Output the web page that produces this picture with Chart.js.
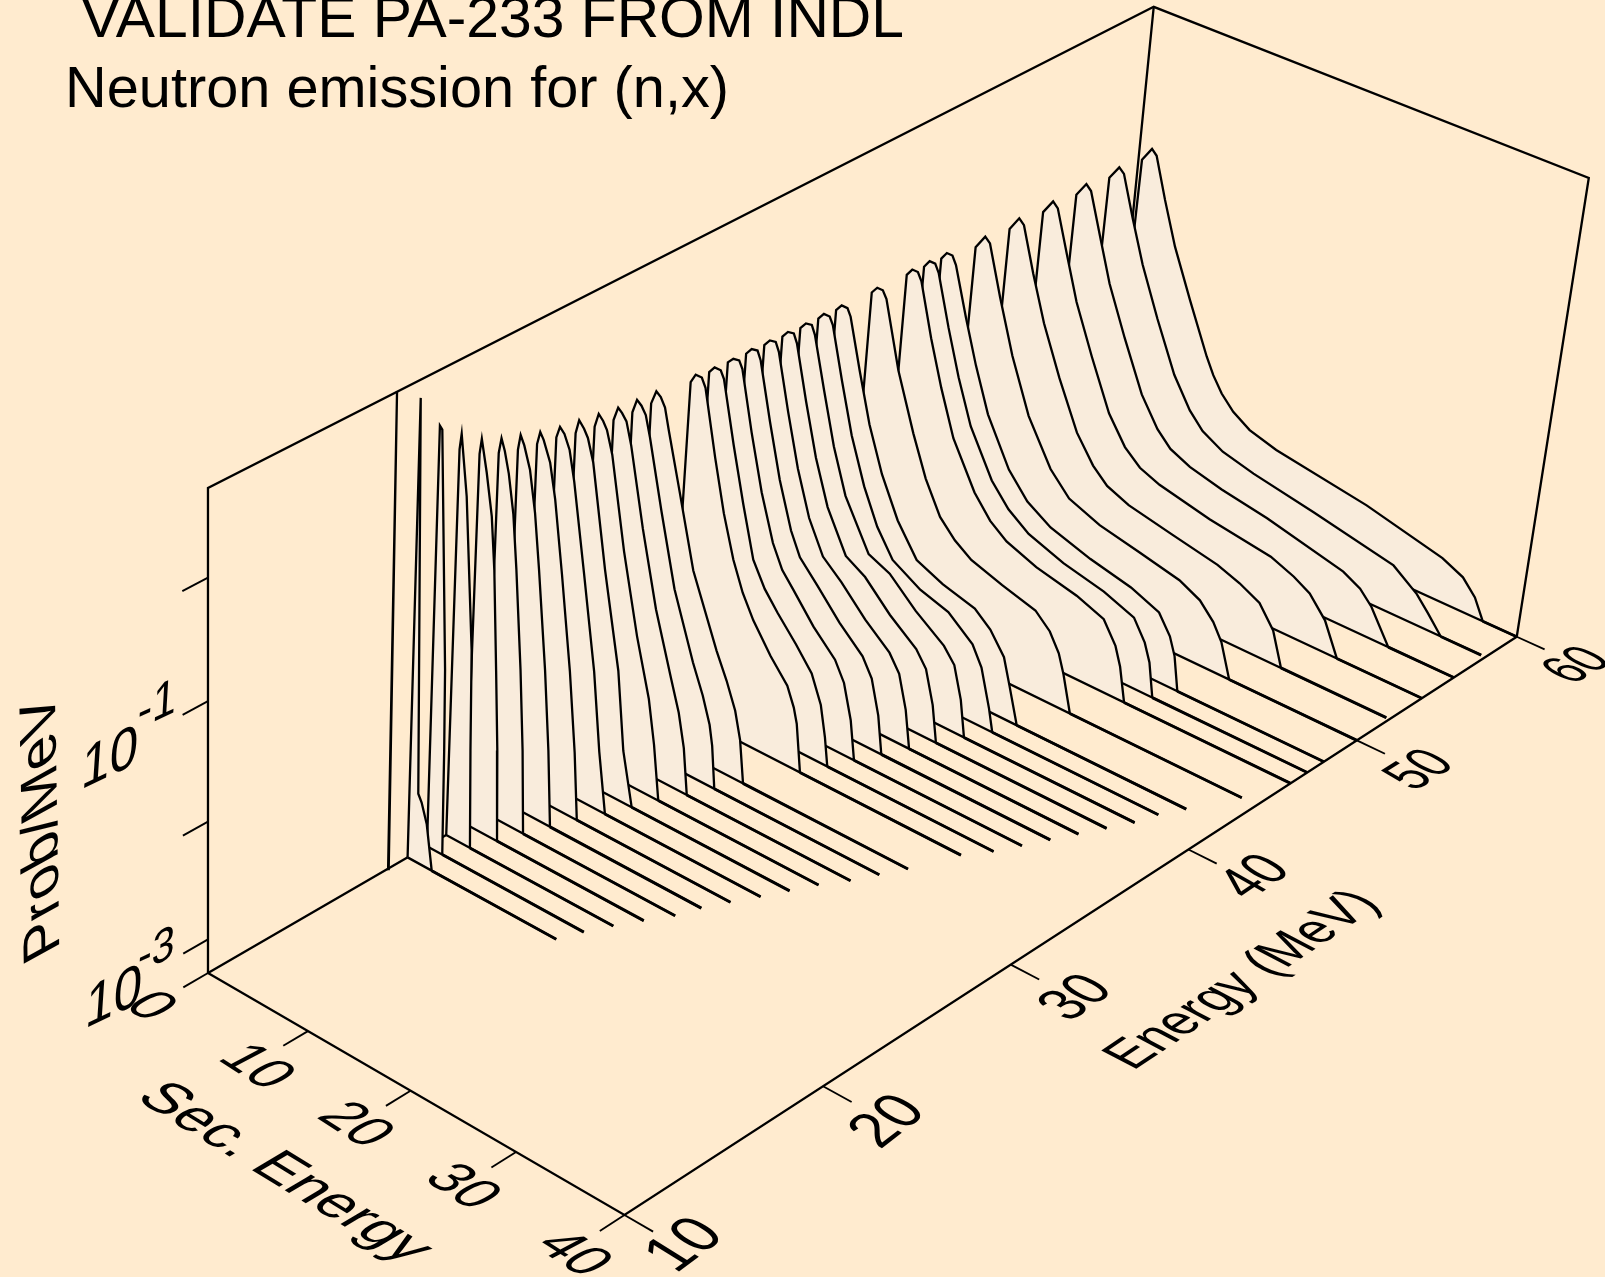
<!DOCTYPE html>
<html>
<head>
<meta charset="utf-8">
<title>Neutron emission for (n,x)</title>
<script src="https://cdn.jsdelivr.net/npm/chart.js@4"></script>
<style>
  html, body { margin: 0; padding: 0; background: #FFEBCF; }
  canvas { display: block; }
</style>
</head>
<body>
<canvas id="myChart" width="1605" height="1277"></canvas>
<script>
// axis ticks
const secTicks = [0, 10, 20, 30, 40];
const energyTicks = [10, 20, 30, 40, 50, 60];
const probTicks = [-3, -2, -1, 0];

// incident energies, back to front is 60 -> 19
const energies = [19, 20, 21, 22, 23, 24, 25, 26, 27, 28, 29, 30, 31, 32, 34, 35, 36, 37, 38, 39, 40, 41, 42, 44, 46, 47, 48, 50, 52, 54, 56, 58, 60];

// floor and ceiling of the z axis, log10(prob/MeV)
const f = -3.29;
const zTop = 0.71;

// one pair per incident energy: secondary energy and log10(prob/MeV)
const sec19 = [0, 0.03, 0.06];
const log19 = [f, 0.71, f];
const sec20 = [0, 0.38, 0.94, 1.29, 1.84, 2.44, 14.8];
const log20 = [f, 0.586, -2.69, -2.75, -2.91, f, f];
const sec21 = [0, 0.36, 0.6, 1.4, 1.5, 1.55, 15.6];
const log21 = [f, 0.277, 0.254, -1.7, -2.39, f, f];
const sec22 = [0, 0.4, 0.57, 1.2, 2.06, 2.2, 2.4, 16.6];
const log22 = [f, 0, 0.133, -0.353, -1.6, -2.45, f, f];
const sec23 = [0, 0.45, 0.63, 1.19, 1.79, 2.18, 2.63, 2.97, 3.2, 17.7];
const log23 = [f, -0.12, 0.01, -0.245, -0.58, -1.01, -1.84, -2.51, f, f];
const sec24 = [0, 0.42, 0.65, 1.0, 1.45, 2.0, 2.45, 3.15, 3.6, 3.9, 18.9];
const log24 = [f, -0.2, -0.07, -0.16, -0.33, -0.64, -1.08, -1.9, -2.58, f, f];
const sec25 = [0, 0.4, 0.62, 1.0, 1.62, 2.24, 2.8, 3.7, 4.29, 4.7, 19.6];
const log25 = [f, -0.26, -0.13, -0.2, -0.375, -0.71, -1.16, -1.97, -2.64, f, f];
const sec26 = [0, 0.38, 0.65, 1.0, 1.7, 2.3, 3.2, 4.3, 5.05, 5.5, 20.6];
const log26 = [f, -0.3, -0.19, -0.24, -0.4, -0.68, -1.27, -2.05, -2.72, f, f];
const sec27 = [0, 0.38, 0.7, 1.15, 1.7, 2.25, 3.5, 4.85, 5.65, 6.44, 21.7];
const log27 = [f, -0.33, -0.23, -0.27, -0.38, -0.62, -1.33, -2.12, -2.78, f, f];
const sec28 = [0, 0.4, 0.7, 1.2, 1.6, 2.2, 3.73, 5.4, 6.2, 7.25, 22.7];
const log28 = [f, -0.38, -0.26, -0.31, -0.37, -0.55, -1.39, -2.18, -2.84, f, f];
const sec29 = [0, 0.4, 0.75, 1.2, 1.6, 2.2, 3.7, 5.3, 6.7, 7.4, 8.05, 23.7];
const log29 = [f, -0.41, -0.29, -0.33, -0.39, -0.57, -1.32, -1.98, -2.46, -2.83, f, f];
const sec30 = [0, 0.4, 0.8, 1.2, 1.65, 2.2, 3.65, 5.25, 7, 7.9, 8.55, 9.05, 25];
const log30 = [f, -0.44, -0.32, -0.35, -0.4, -0.58, -1.22, -1.84, -2.36, -2.62, -2.9, f, f];
const sec31 = [0, 0.4, 0.8, 1.25, 1.7, 2.2, 3.6, 5.2, 7.3, 8.4, 9.2, 9.55, 9.96, 26];
const log31 = [f, -0.46, -0.34, -0.37, -0.43, -0.6, -1.16, -1.76, -2.3, -2.54, -2.76, -2.93, f, f];
const sec32 = [0, 0.4, 0.85, 1.3, 1.75, 2.2, 3.55, 5.18, 7.8, 8.9, 9.88, 10.5, 11, 27];
const log32 = [f, -0.47, -0.35, -0.38, -0.45, -0.62, -1.1, -1.69, -2.27, -2.48, -2.7, -2.93, f, f];
const sec34 = [0, 0.6, 1.05, 1.65, 2.05, 3.3, 4.4, 5.54, 6.6, 7.76, 9.6, 11.36, 12.1, 12.47, 13.05, 28.6];
const log34 = [f, -0.45, -0.37, -0.37, -0.44, -0.98, -1.41, -1.76, -2, -2.19, -2.42, -2.6, -2.76, -2.885, f, f];
const sec35 = [0, 0.6, 1.1, 1.7, 2.05, 3.3, 4.5, 5.75, 7, 8.37, 10.3, 11.95, 13, 13.58, 13.97, 30];
const log35 = [f, -0.45, -0.39, -0.39, -0.45, -0.96, -1.41, -1.84, -2.04, -2.19, -2.38, -2.56, -2.79, -3.05, f, f];
const sec36 = [0, 0.62, 1.13, 1.7, 2.05, 3.25, 4.52, 5.86, 6.9, 8.06, 10.2, 12.44, 13.43, 14.29, 14.84, 31];
const log36 = [f, -0.45, -0.4, -0.39, -0.45, -0.94, -1.4, -1.78, -1.97, -2.09, -2.32, -2.51, -2.67, -2.96, f, f];
const sec37 = [0, 0.62, 1.13, 1.7, 2.05, 3.25, 4.5, 5.85, 6.85, 8.7, 11, 13.4, 14.4, 15.25, 15.78, 32];
const log37 = [f, -0.46, -0.4, -0.39, -0.46, -0.93, -1.38, -1.76, -1.95, -2.12, -2.34, -2.53, -2.68, -2.97, f, f];
const sec38 = [0, 0.62, 1.13, 1.7, 2.05, 3.25, 4.5, 5.85, 7.39, 9.3, 11.8, 14.3, 15.35, 16.2, 16.77, 33];
const log38 = [f, -0.47, -0.41, -0.4, -0.47, -0.93, -1.37, -1.74, -2.01, -2.15, -2.37, -2.55, -2.69, -2.97, f, f];
const sec39 = [0, 0.62, 1.13, 1.7, 2.05, 3.25, 4.5, 5.9, 7.93, 9.9, 12.5, 15.2, 16.25, 17.12, 17.68, 34];
const log39 = [f, -0.48, -0.42, -0.41, -0.48, -0.93, -1.36, -1.73, -2.07, -2.17, -2.39, -2.57, -2.7, -2.98, f, f];
const sec40 = [0, 0.62, 1.13, 1.7, 2.05, 3.25, 4.5, 5.9, 8.47, 10.6, 13.3, 16.2, 17.3, 18.15, 18.71, 35];
const log40 = [f, -0.49, -0.43, -0.42, -0.49, -0.92, -1.35, -1.72, -2.12, -2.2, -2.41, -2.59, -2.71, -2.98, f, f];
const sec41 = [0, 0.62, 1.13, 1.7, 2.05, 3.25, 4.5, 6, 7.5, 9.18, 12, 14.8, 17.3, 18.3, 19.3, 19.77, 35.6];
const log41 = [f, -0.49, -0.43, -0.43, -0.49, -0.92, -1.34, -1.72, -2.01, -2.23, -2.37, -2.445, -2.62, -2.78, -3.1, f, f];
const sec42 = [0, 0.62, 1.13, 1.7, 2.05, 3.25, 4.5, 6, 7.8, 9.87, 12.5, 15.7, 17.3, 18.78, 19.5, 20.47, 36.6];
const log42 = [f, -0.5, -0.44, -0.44, -0.5, -0.92, -1.33, -1.7, -2.03, -2.29, -2.39, -2.465, -2.58, -2.76, -2.98, f, f];
const sec44 = [0, 0.65, 1.15, 1.7, 2.1, 3.68, 5.52, 7, 8.63, 10.2, 11.9, 15, 18.3, 19.8, 20.8, 21.4, 22.3, 38.6];
const log44 = [f, -0.51, -0.45, -0.45, -0.51, -1.06, -1.535, -1.87, -2.14, -2.28, -2.38, -2.47, -2.55, -2.67, -2.82, -2.98, f, f];
const sec46 = [0, 0.65, 1.15, 1.7, 2.1, 3.4, 4.7, 6.2, 8.6, 10.3, 12, 15, 19, 21.7, 23, 23.6, 24.26, 40];
const log46 = [f, -0.52, -0.455, -0.455, -0.52, -0.96, -1.34, -1.72, -2.1, -2.28, -2.39, -2.49, -2.57, -2.66, -2.84, -3, f, f];
const sec47 = [0, 0.65, 1.15, 1.7, 2.1, 3.4, 4.7, 6.2, 8.6, 10.4, 12.5, 16, 20, 23, 24.2, 24.8, 25.36, 40];
const log47 = [f, -0.53, -0.463, -0.463, -0.53, -0.95, -1.33, -1.7, -2.08, -2.26, -2.39, -2.5, -2.58, -2.68, -2.85, -3, f, f];
const sec48 = [0, 0.65, 1.15, 1.7, 2.1, 3.4, 4.7, 6.2, 8.6, 10.6, 13, 17, 21, 23.8, 25, 25.6, 26.16, 40];
const log48 = [f, -0.54, -0.473, -0.473, -0.54, -0.94, -1.31, -1.68, -2.07, -2.27, -2.4, -2.51, -2.59, -2.69, -2.85, -3, f, f];
const sec50 = [0, 0.7, 1.55, 2.05, 3.4, 5, 7, 9.5, 11.5, 14.6, 18.5, 22.5, 24.56, 25.98, 26.9, 27.95, 40];
const log50 = [f, -0.6, -0.475, -0.515, -0.93, -1.38, -1.83, -2.2, -2.38, -2.487, -2.56, -2.64, -2.73, -2.862, -3, f, f];
const sec52 = [0, 0.7, 1.55, 2.05, 3.3, 4.7, 6.6, 8.7, 10.5, 12, 14.2, 18.5, 23, 25.2, 27.2, 28.7, 29.77, 39.7];
const log52 = [f, -0.6, -0.474, -0.515, -0.89, -1.27, -1.68, -2.08, -2.3, -2.42, -2.5, -2.58, -2.66, -2.73, -2.82, -3, f, f];
const sec54 = [0, 0.7, 1.58, 2.08, 3.3, 4.6, 6.5, 8.6, 10.4, 12, 14, 19, 25, 27.3, 28.9, 30.55, 32, 40];
const log54 = [f, -0.61, -0.483, -0.525, -0.88, -1.25, -1.66, -2.08, -2.31, -2.43, -2.5, -2.6, -2.68, -2.76, -2.84, -3.01, f, f];
const sec56 = [0, 0.7, 1.58, 2.08, 3.3, 4.6, 6.5, 8.6, 10.4, 11.8, 13.8, 17, 21.5, 29, 30.7, 31.9, 33.84, 40];
const log56 = [f, -0.615, -0.488, -0.53, -0.88, -1.25, -1.66, -2.08, -2.32, -2.44, -2.52, -2.59, -2.66, -2.82, -2.9, -3.01, f, f];
const sec58 = [0, 0.71, 1.58, 2.08, 3.28, 4.62, 6.5, 8.6, 10.4, 11.8, 13.9, 17, 23, 30.8, 33.2, 34.4, 35.8, 39.6];
const log58 = [f, -0.62, -0.497, -0.535, -0.88, -1.24, -1.65, -2.07, -2.32, -2.45, -2.55, -2.62, -2.72, -2.865, -3.02, -3.14, f, f];
const sec60 = [0, 0.71, 1.58, 2.08, 3.26, 4.62, 6.53, 8.63, 9.43, 10.4, 11.67, 13.4, 16.1, 25.05, 32.5, 34.55, 35.84, 36.8, 40];
const log60 = [f, -0.617, -0.488, -0.53, -0.876, -1.24, -1.645, -2.07, -2.207, -2.335, -2.45, -2.545, -2.615, -2.744, -2.905, -2.99, -3.116, f, f];

const secSeries = [sec19, sec20, sec21, sec22, sec23, sec24, sec25, sec26, sec27, sec28, sec29, sec30, sec31, sec32, sec34, sec35, sec36, sec37, sec38, sec39, sec40, sec41, sec42, sec44, sec46, sec47, sec48, sec50, sec52, sec54, sec56, sec58, sec60];
const logSeries = [log19, log20, log21, log22, log23, log24, log25, log26, log27, log28, log29, log30, log31, log32, log34, log35, log36, log37, log38, log39, log40, log41, log42, log44, log46, log47, log48, log50, log52, log54, log56, log58, log60];

const lineColor = "#000000";
const curveFill = "#F9ECDC";
const font = '"Liberation Sans", Arial, sans-serif';

// perspective camera fitted to the box corners of the reference
function project(sec, energy, logP) {
  const u = sec / 40;
  const v = (energy - 10) / 50;
  const w = (logP - f) / (zTop - f);
  const d = 1 - 0.05276 * u + 0.13765 * v - 0.047 * w;
  return {
    x: (208 + 383.5 * u + 1054 * v - 9.8 * w) / d,
    y: (973 + 177.9 * u - 460.1 * v - 507.9 * w) / d
  };
}

function lineSet(points, width) {
  return {
    data: points,
    showLine: true,
    fill: false,
    borderColor: lineColor,
    borderWidth: width || 2.3,
    pointRadius: 0,
    tension: 0,
    clip: false,
    borderCapStyle: "butt",
    borderJoinStyle: "miter"
  };
}

// the first dataset is painted last in Chart.js, so keep front things first
const datasets = [];

// floor edges at the front and all tick marks
datasets.push(lineSet([project(0, 10, f), project(40, 10, f), project(40, 60, f)]));
secTicks.forEach(s => datasets.push(lineSet([project(s, 10, f), project(s, 8.8, f)], 1.9)));
energyTicks.forEach(e => datasets.push(lineSet([project(40, e, f), project(42.6, e, f)], 1.9)));
probTicks.forEach(p => datasets.push(lineSet([project(0, 10, p), project(0, 8.8, p)], 1.9)));

// curves, the tail along the floor is a heavier stroke on top of its own shape
energies.forEach((e, i) => {
  const secs = secSeries[i];
  const logs = logSeries[i];
  const n = secs.length;
  if (n > 3) {
    datasets.push(lineSet([project(secs[n - 2], e, f), project(secs[n - 1], e, f)], 2.9));
  }
  const pts = secs.map((s, k) => project(s, e, logs[k]));
  pts.push(project(secs[0], e, f));
  const ds = lineSet(pts);
  ds.fill = "shape";
  ds.backgroundColor = curveFill;
  datasets.push(ds);
});

// box behind the curves
const topBack = project(0.55, 60, zTop);
const topRight = project(41.1, 60, zTop + 0.027);
datasets.push(lineSet([project(0, 10, f), project(0, 10, zTop), topBack, topRight, project(40, 60, f)]));
datasets.push(lineSet([topBack, project(0, 60, f), project(0, 10, f)]));

// text sits on the box planes: adv and up are pixels per em
const labels = [
  { text: "VALIDATE PA-233 FROM INDL", x: 81, y: 36.7, adv: [58, 0], up: [0, -58], fit: 823 },
  { text: "Neutron emission for (n,x)", x: 65, y: 106.7, adv: [58, 0], up: [0, -58], fit: 664 },
  { text: "Prob/MeV", x: 59.3, y: 949, adv: [-1, -58.5], up: [-51.5, 28.5] },
  { text: "Sec. Energy", x: 134, y: 1098.3, adv: [50, 30.5], up: [50, -29.7] },
  { text: "Energy (MeV)", x: 1133, y: 1071, adv: [40.3, -27], up: [-51, -26.8] },
  { text: "0", x: 135.2, y: 1014.3, adv: [45, 29], up: [52, -27.5], center: true },
  { text: "10", x: 241, y: 1075, adv: [45, 29], up: [52, -27.5], center: true },
  { text: "20", x: 340, y: 1133, adv: [45, 29], up: [52, -27.5], center: true },
  { text: "30", x: 447, y: 1195, adv: [45, 29], up: [52, -27.5], center: true },
  { text: "40", x: 558, y: 1262, adv: [45, 29], up: [52, -27.5], center: true },
  { text: "10", x: 701, y: 1255, adv: [46, -34], up: [-55, -34], center: true },
  { text: "20", x: 904, y: 1131, adv: [43.7, -34], up: [-54.5, -32.4], center: true },
  { text: "30", x: 1092.2, y: 1006.8, adv: [41.8, -28.8], up: [-54, -30], center: true },
  { text: "40", x: 1270.9, y: 886, adv: [39.5, -27], up: [-53.5, -30], center: true },
  { text: "50", x: 1435.7, y: 778.3, adv: [38.4, -24], up: [-53, -28], center: true },
  { text: "60", x: 1592.7, y: 673.4, adv: [37.2, -21], up: [-53, -27], center: true },
  { text: "10", x: 108.6, y: 776.5, adv: [51, -24], up: [4, -60], center: true },
  { text: "-1", x: 156.2, y: 720.5, adv: [43, -20], up: [3, -52], center: true },
  { text: "10", x: 112.6, y: 1015.5, adv: [51, -24], up: [4, -60], center: true },
  { text: "-3", x: 155.6, y: 964.7, adv: [41, -19], up: [3, -48], center: true }
];

const labelPlugin = {
  id: "planeLabels",
  afterDraw(c) {
    const ctx = c.ctx;
    labels.forEach(l => {
      ctx.save();
      ctx.font = "100px " + font;
      ctx.fillStyle = lineColor;
      ctx.textBaseline = "alphabetic";
      ctx.textAlign = l.center ? "center" : "left";
      const ax = l.fit ? l.fit / ctx.measureText(l.text).width : l.adv[0] / 100;
      const ay = l.fit ? 0 : l.adv[1] / 100;
      ctx.transform(ax, ay, -l.up[0] / 100, -l.up[1] / 100, l.x, l.y);
      ctx.fillText(l.text, 0, 0);
      ctx.restore();
    });
  }
};

const chart = new Chart(document.getElementById("myChart").getContext("2d"), {
  type: "scatter",
  data: { datasets },
  options: {
    responsive: false,
    animation: false,
    layout: { padding: 0 },
    plugins: { legend: { display: false }, tooltip: { enabled: false } },
    scales: {
      x: { type: "linear", min: 0, max: 1605, display: false },
      y: { type: "linear", min: 0, max: 1277, reverse: true, display: false }
    }
  },
  plugins: [labelPlugin]
});
</script>
</body>
</html>
